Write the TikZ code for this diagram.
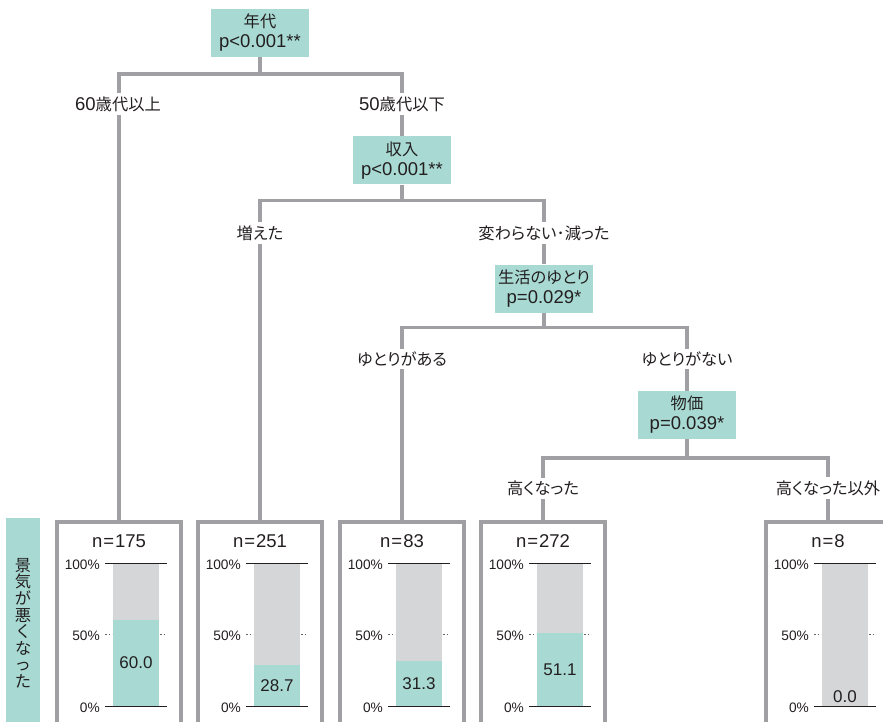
\documentclass[tikz,border=0pt]{standalone}
\usepackage{fontspec}
\setmainfont{Liberation Sans}
\newfontfamily\jp{Noto Sans CJK JP}[RawFeature=+palt,Scale=0.88]
\definecolor{mint}{RGB}{168,218,211}
\definecolor{frame}{RGB}{160,160,164}
\definecolor{bargrey}{RGB}{213,214,216}
\definecolor{ink}{RGB}{35,31,32}

\begin{document}
\begin{tikzpicture}[x=1pt,y=-1pt,every node/.style={font=\fontsize{18.5}{20}\selectfont,text=ink},split/.style={fill=mint,minimum width=98pt,minimum height=48pt,align=center,inner sep=2pt},branch/.style={draw=frame,line width=3.5pt},choice/.style={fill=white,inner sep=3pt},leaf/.style={draw=frame,line width=3.5pt,minimum width=124pt,minimum height=220pt,anchor=north,inner sep=0pt},axis/.style={font=\fontsize{13.7}{15}\selectfont,anchor=east,inner sep=0pt},value/.style={font=\fontsize{17}{19}\selectfont,inner sep=0pt}]
\clip (0,0) rectangle (883,722);
\node[split] (age) at (260,33) {\jp 年代\\p<0.001**};
\node[split] (income) at (402,160.5) {\jp 収入\\p<0.001**};
\node[split] (margin) at (544,288.5) {\jp 生活のゆとり\\p=0.029*};
\node[split] (price) at (687,415) {\jp 物価\\p=0.039*};
\node[leaf] (leafA) at (119,520) {};
\node[leaf] (leafB) at (260,520) {};
\node[leaf] (leafC) at (402,520) {};
\node[leaf] (leafD) at (543,520) {};
\node[leaf] (leafE) at (828,520) {};
\path[branch] (age.south) -- ++(0,17) -| (leafA.north);
\path[branch] (age.south) -- ++(0,17) -| (income.north);
\path[branch] (income.south) -- ++(0,16) -| (leafB.north);
\path[branch] (income.south) -- ++(0,16) -| (margin.north);
\path[branch] (margin.south) -- ++(0,15) -| (leafC.north);
\path[branch] (margin.south) -- ++(0,15) -| (price.north);
\path[branch] (price.south) -- ++(0,19) -| (leafD.north);
\path[branch] (price.south) -- ++(0,19) -| (leafE.north);
\node[choice] (old) at (118,104) {60{\jp 歳代以上}};
\node[choice] (young) at (402,104) {50{\jp 歳代以下}};
\node[choice] (up) at (260,233) {\jp 増えた};
\node[choice] (down) at (544,233) {\jp 変わらない･減った};
\node[choice] (has) at (402,359) {\jp ゆとりがある};
\node[choice] (hasnot) at (687,359) {\jp ゆとりがない};
\node[choice] (higher) at (543,488) {\jp 高くなった};
\node[choice] (other) at (828,488) {\jp 高くなった以外};
\node[fill=mint,minimum width=34pt,minimum height=210pt,anchor=north,align=center,font=\fontsize{18.5}{16.6}\selectfont\jp] (worse) at (23,518) {景\\気\\が\\悪\\く\\な\\っ\\た};
% bar charts of the leaves
\foreach \c/\n/\v/\id in {119/175/60.0/A,260/251/28.7/B,402/83/31.3/C,543/272/51.1/D,828/8/0.0/E} {
  \node (n\id) at (\c,541) {n\kern1pt=\kern1pt\n};
  \fill[bargrey] (\c-6,563) rectangle (\c+40,706);
  \fill[mint] (\c-6,706-1.43*\v) rectangle (\c+40,706);
  \draw[ink,line width=0.8pt] (\c-14,563) -- (\c+48,563) (\c-14,706) -- (\c+48,706);
  \draw[ink!70,line width=0.6pt,dash pattern=on 1.5pt off 2pt] (\c-14,634) -- (\c-7,634) (\c+41,634) -- (\c+48,634);
  \node[axis] (top\id) at (\c-19,565) {100\%};
  \node[axis] (mid\id) at (\c-19,636) {50\%};
  \node[axis] (low\id) at (\c-19,708) {0\%};
  \node[value] (v\id) at (\c+17,{min(706-0.715*\v,697)}) {\v};
}
\end{tikzpicture}
\end{document}
